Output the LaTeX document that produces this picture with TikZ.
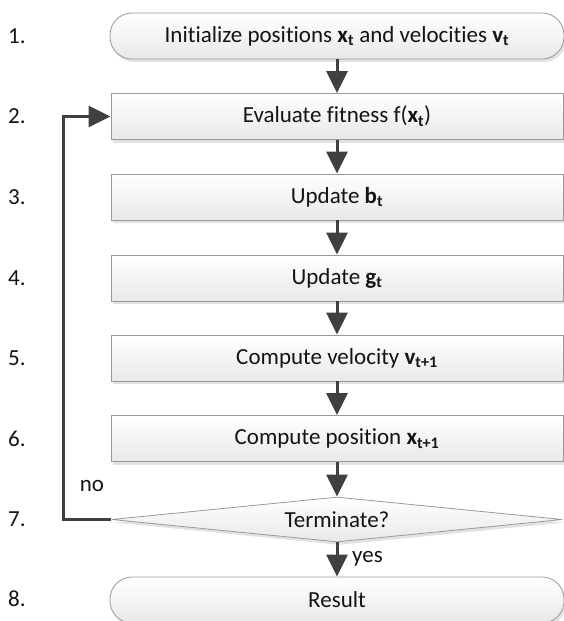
\documentclass[tikz,border=0pt]{standalone}
\usepackage{fontspec}
\setmainfont{Carlito}[Ligatures=NoCommon]
\usetikzlibrary{arrows.meta,shapes.geometric,shadows}
\begin{document}
\begin{tikzpicture}[x=1pt,y=-1pt,
  font=\fontsize{23}{27}\selectfont,
  boxbase/.style={draw=black!40, line width=0.8pt, top color=white, bottom color=black!9,
    inner sep=0pt, text=black!92,
    drop shadow={shadow xshift=2pt, shadow yshift=-3pt, fill=black!25, opacity=0.45}},
  procbox/.style={boxbase, rectangle, minimum width=452pt, minimum height=46pt},
  termbox/.style={boxbase, rectangle, rounded corners=22pt, minimum width=454pt, minimum height=46pt},
  decbox/.style={boxbase, diamond, shape aspect=10, minimum width=451pt, minimum height=45pt},
  steplabel/.style={anchor=west, inner sep=0pt, text=black!92},
  plainlabel/.style={inner sep=0pt, text=black!92},
  flow/.style={draw=black!75, line width=3pt, -{Triangle[length=22pt,width=21pt]}},
]
\useasboundingbox (0,0) rectangle (564,621);

\node[termbox] (n1) at (337,36) {Initialize positions \textbf{x\textsubscript{t}} and velocities \textbf{v\textsubscript{t}}};
\node[procbox] (n2) at (337,116.5) {Evaluate fitness f(\textbf{x\textsubscript{t}})};
\node[procbox] (n3) at (337,197) {Update \textbf{b\textsubscript{t}}};
\node[procbox] (n4) at (337,278) {Update \textbf{g\textsubscript{t}}};
\node[procbox] (n5) at (337,358) {Compute velocity \textbf{v\textsubscript{t+1}}};
\node[procbox] (n6) at (337,438.5) {Compute position \textbf{x\textsubscript{t+1}}};
\node[decbox] (n7) at (337,519.5) {Terminate?};
\node[termbox] (n8) at (337,600) {Result};

\node[steplabel] (l1) at (8,36) {1.};
\node[steplabel] (l2) at (8,116.5) {2.};
\node[steplabel] (l3) at (8,197) {3.};
\node[steplabel] (l4) at (8,278) {4.};
\node[steplabel] (l5) at (8,358) {5.};
\node[steplabel] (l6) at (8,438.5) {6.};
\node[steplabel] (l7) at (8,519.5) {7.};
\node[steplabel] (l8) at (8,599) {8.};

\draw[flow] (n1.south) -- (n2.north);
\draw[flow] (n2.south) -- (n3.north);
\draw[flow] (n3.south) -- (n4.north);
\draw[flow] (n4.south) -- (n5.north);
\draw[flow] (n5.south) -- (n6.north);
\draw[flow] (n6.south) -- (n7.north);
\draw[flow] (n7.south) -- (n8.north);

\coordinate (c1) at (63,519.5);
\draw[flow] (n7.west) -- (c1) |- (n2.west);

\node[plainlabel] (no) at (92,486) {no};
\node[plainlabel, anchor=west] (yes) at (352,559) {yes};
\end{tikzpicture}
\end{document}
